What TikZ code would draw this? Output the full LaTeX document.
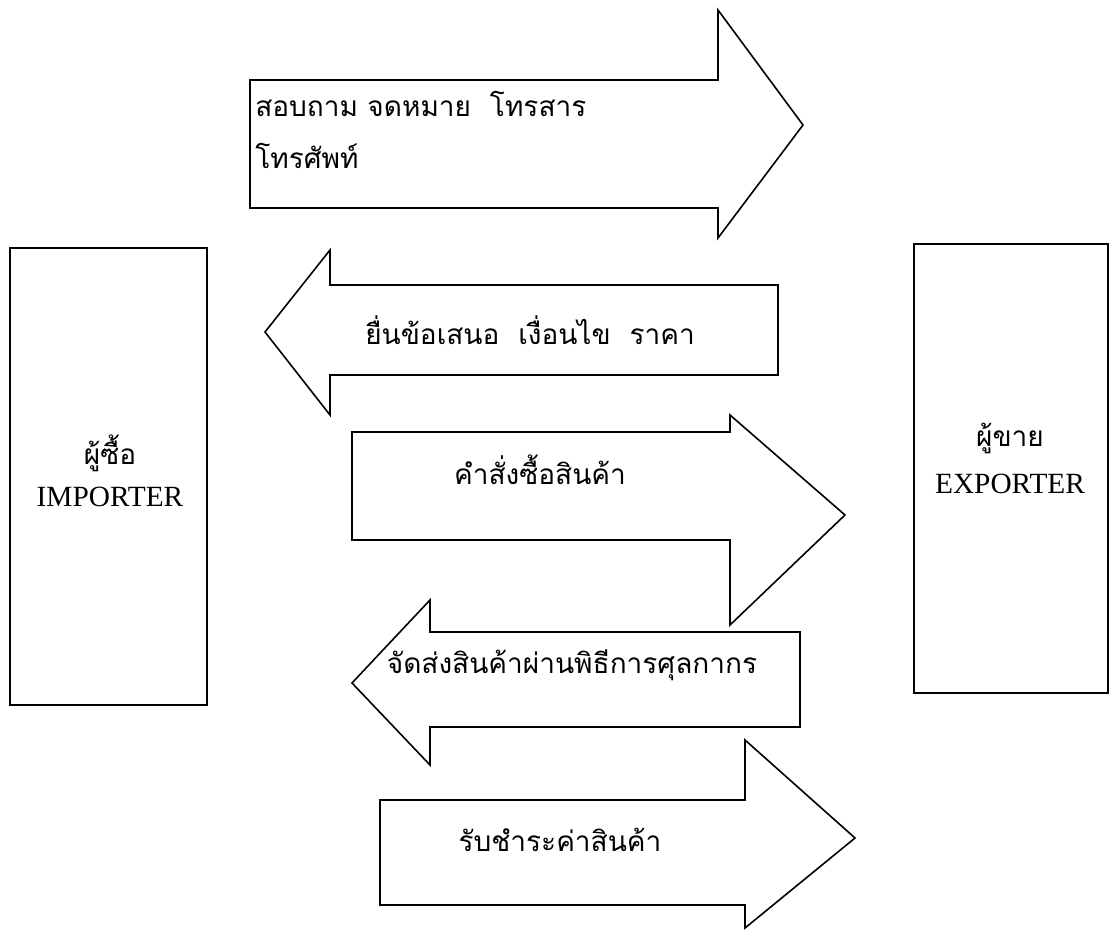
\documentclass[tikz,border=0pt]{standalone}
\usepackage{fontspec}
\setmainfont{Liberation Serif}
\newfontfamily\thaifont[Script=Thai]{Loma}

\tikzset{
	party/.style={draw, line width=1.1pt},
	flow/.style={draw, line width=1.2pt, line join=miter},
	thailabel/.style={font=\thaifont\fontsize{21}{39}\selectfont, inner sep=0pt},
	partylabel/.style={font=\fontsize{22}{26}\selectfont, inner sep=0pt}
}

\begin{document}
\begin{tikzpicture}[x=0.75pt, y=-0.75pt]
	\useasboundingbox (0,0) rectangle (1111,931);

	% Draw the two parties
	\draw[party] (10,248) rectangle (207,705);
	\draw[party] (914,244) rectangle (1108,693);
	\node[thailabel] (buyer) at (110,453) {ผู้ซื้อ};
	\node[partylabel] (importer) at (110,497) {IMPORTER};
	\node[thailabel] (seller) at (1010,438) {ผู้ขาย};
	\node[partylabel] (exporter) at (1010,484) {EXPORTER};

	% Draw the arrows between the parties
	\draw[flow] (250,80) -- (718,80) -- (718,10) -- (803,125) -- (718,238) -- (718,208) -- (250,208) -- cycle;
	\draw[flow] (778,285) -- (330,285) -- (330,250) -- (265,332) -- (330,415) -- (330,375) -- (778,375) -- cycle;
	\draw[flow] (352,432) -- (730,432) -- (730,415) -- (845,515) -- (730,625) -- (730,540) -- (352,540) -- cycle;
	\draw[flow] (800,632) -- (430,632) -- (430,600) -- (352,683) -- (430,765) -- (430,727) -- (800,727) -- cycle;
	\draw[flow] (380,800) -- (745,800) -- (745,740) -- (855,838) -- (745,928) -- (745,905) -- (380,905) -- cycle;

	% Labels on the arrows
	\node[thailabel, anchor=west, align=left] (ask) at (255,130) {สอบถาม จดหมาย~ โทรสาร\\โทรศัพท์};
	\node[thailabel] (offer) at (530,330) {ยื่นข้อเสนอ~ เงื่อนไข~ ราคา};
	\node[thailabel] (order) at (540,470) {คำสั่งซื้อสินค้า};
	\node[thailabel] (ship) at (572,665) {จัดส่งสินค้าผ่านพิธีการศุลกากร};
	\node[thailabel] (pay) at (560,840) {รับชำระค่าสินค้า};
\end{tikzpicture}
\end{document}
